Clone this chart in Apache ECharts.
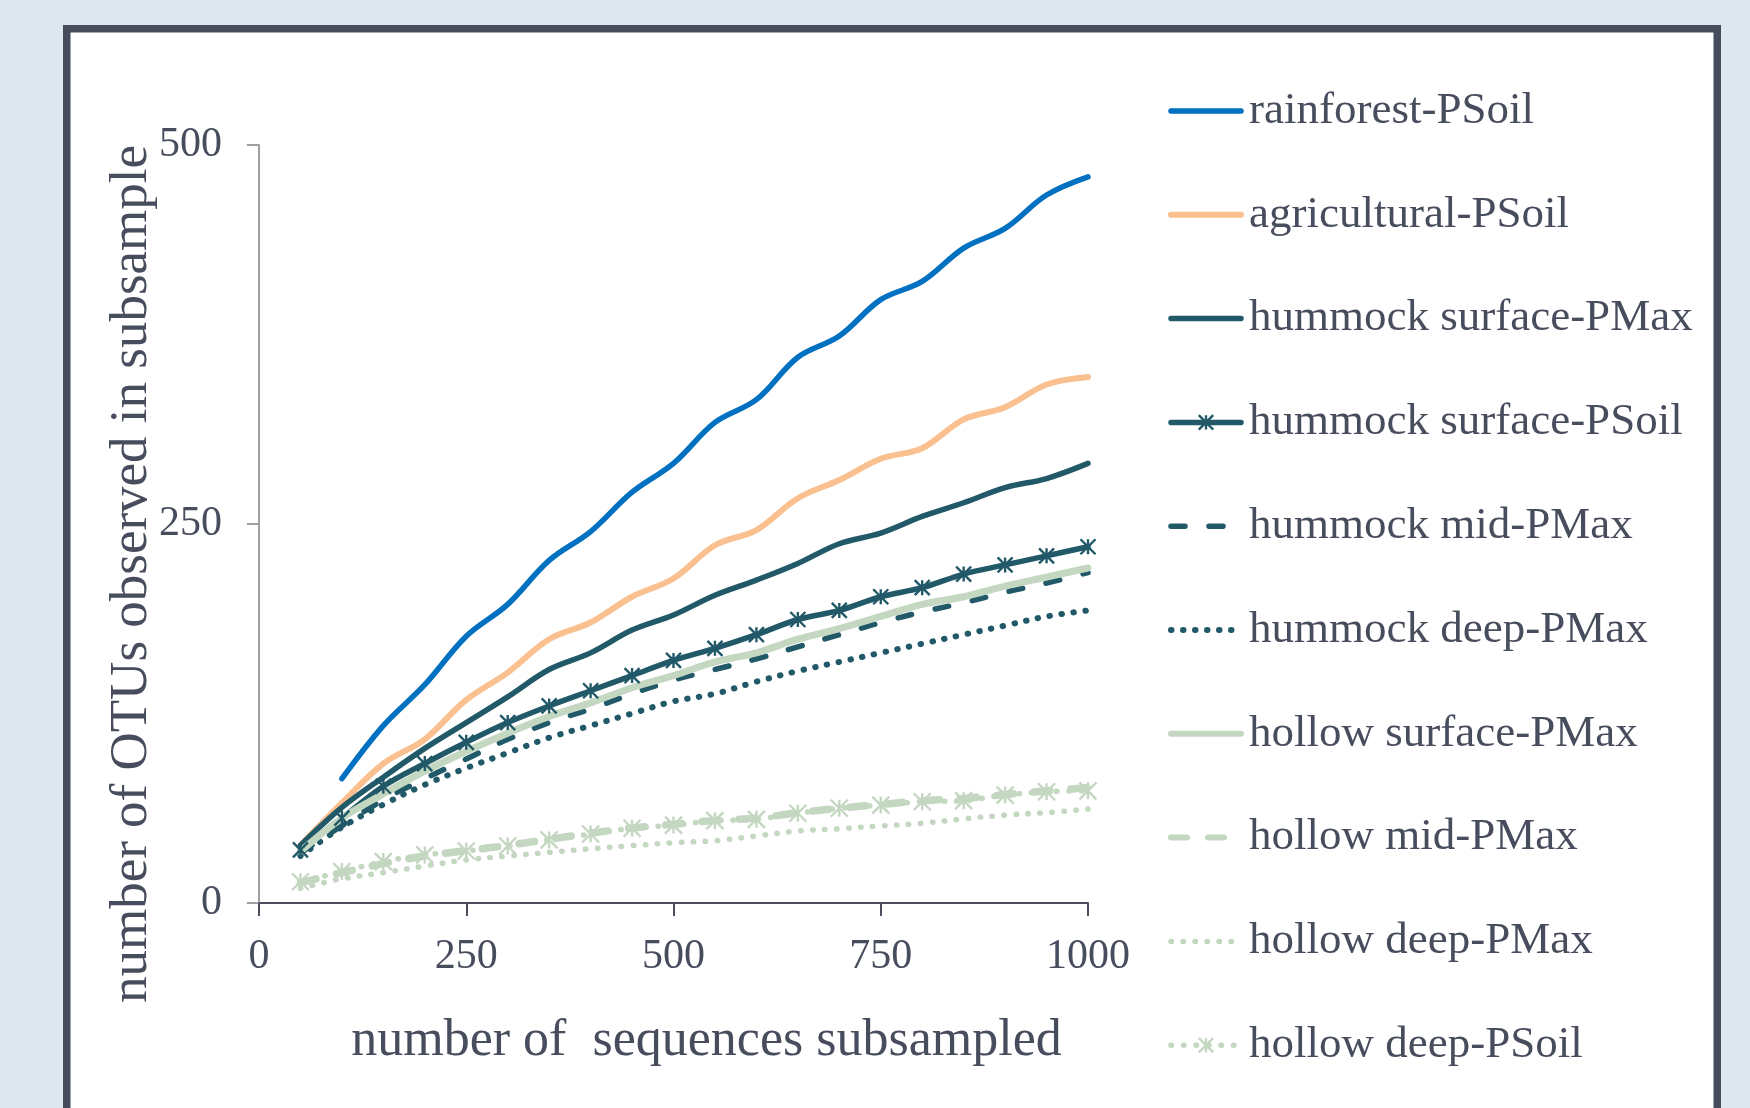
<!DOCTYPE html>
<html>
<head>
<meta charset="utf-8">
<title>OTU rarefaction</title>
<script src="https://cdn.jsdelivr.net/npm/echarts@6/dist/echarts.min.js"></script>
<style>
  html, body { margin: 0; padding: 0; background: #dde9ee; }
  #chart { width: 1750px; height: 1108px; }
</style>
</head>
<body>
<div id="chart"></div>
<script>
// sequences subsampled (x)
var sampleSizes = [50, 100, 150, 200, 250, 300, 350, 400, 450, 500, 550, 600, 650, 700, 750, 800, 850, 900, 950, 1000];

// OTUs observed (y), one array per sample
var rainforestPSoil = [null, 82, 117, 144, 176, 197, 226, 245, 271, 290, 317, 332, 360, 374, 398, 410, 432, 445, 467, 479];
var agriculturalPSoil = [38, 66, 92, 108, 134, 152, 174, 185, 202, 214, 236, 246, 267, 279, 293, 300, 319, 327, 342, 347];
var hummockSurfacePMax = [38, 63, 83, 102, 119, 136, 154, 165, 180, 190, 203, 213, 224, 237, 244, 255, 264, 274, 280, 290];
var hummockSurfacePSoil = [35, 56, 77, 92, 106, 119, 130, 140, 150, 160, 168, 177, 187, 193, 202, 208, 217, 223, 229, 235];
var hummockMidPMax = [33, 51, 68, 82, 95, 108, 119, 128, 138, 147, 154, 161, 169, 177, 185, 192, 198, 205, 211, 218];
var hummockDeepPMax = [31, 50, 65, 78, 89, 99, 109, 117, 125, 133, 138, 146, 153, 159, 165, 171, 177, 183, 189, 193];
var hollowSurfacePMax = [34, 56, 72, 87, 100, 112, 123, 132, 142, 150, 159, 165, 174, 181, 189, 197, 202, 209, 215, 221];
var hollowMidPMax = [13.5, 20, 26, 31, 34.5, 38, 42, 46, 49.5, 52, 54.5, 56, 59.5, 62.5, 65, 67.5, 69, 71.5, 74, 76];
var hollowDeepPMax = [9.7, 16, 20, 24.4, 28.4, 31, 33.4, 35.8, 37.8, 39.8, 41.1, 44.2, 47.5, 49, 50.8, 52.6, 55.4, 58, 59.6, 62];
var hollowDeepPSoil = [14, 20.7, 27.3, 31.7, 34.3, 37.6, 41.6, 45.5, 49.3, 51.4, 54.3, 55.2, 59.2, 62.5, 64.6, 66.8, 67.5, 71.2, 73.4, 74];

var xTicks = [0, 250, 500, 750, 1000];
var yTicks = [0, 250, 500];

var BLUE = '#0070c0';
var PEACH = '#fac090';
var TEAL = '#215968';
var SAGE = '#c4d7c1';
var TEXT = '#484d5e';
var FONT = '"Liberation Serif", "DejaVu Serif", serif';
var STAR = 'path://M0 0L10 10M10 0L0 10M5 0L5 10';

var DASH = [14, 24];
var DASH_WIDE = [16, 21];
var DOT = [0.5, 11.5];

function pairs(values) {
  return sampleSizes.map(function (x, i) {
    return [x, values[i]];
  });
}

var legendItems = [];

function lineSeries(name, values, color, width, type, marker) {
  var s = {
    name: name,
    type: 'line',
    data: pairs(values),
    smooth: 0.35,
    symbol: 'none',
    lineStyle: { color: color, width: width, type: type || 'solid', cap: 'round', join: 'round' },
    itemStyle: { color: color },
    emphasis: { disabled: true }
  };
  var item = {
    name: name,
    lineStyle: { color: color, width: Math.min(width, 6), type: type || 'solid', cap: 'round' },
    itemStyle: { opacity: 0 }
  };
  if (marker) {
    s.symbol = STAR;
    s.symbolSize = marker;
    s.showSymbol = true;
    s.itemStyle = { color: 'rgba(0,0,0,0)', borderColor: color, borderWidth: 2.4 };
    item.itemStyle = { color: 'rgba(0,0,0,0)', borderColor: color, borderWidth: 2.4, opacity: 1 };
  }
  legendItems.push(item);
  return s;
}

var series = [
  lineSeries('rainforest-PSoil', rainforestPSoil, BLUE, 5.5),
  lineSeries('agricultural-PSoil', agriculturalPSoil, PEACH, 6),
  lineSeries('hummock surface-PMax', hummockSurfacePMax, TEAL, 5.5),
  lineSeries('hummock surface-PSoil', hummockSurfacePSoil, TEAL, 5.5, 'solid', 15),
  lineSeries('hummock mid-PMax', hummockMidPMax, TEAL, 5.5, DASH),
  lineSeries('hummock deep-PMax', hummockDeepPMax, TEAL, 6, DOT),
  lineSeries('hollow surface-PMax', hollowSurfacePMax, SAGE, 7),
  lineSeries('hollow mid-PMax', hollowMidPMax, SAGE, 7.5, DASH_WIDE),
  lineSeries('hollow deep-PMax', hollowDeepPMax, SAGE, 5.5, DOT),
  lineSeries('hollow deep-PSoil', hollowDeepPSoil, SAGE, 5.5, [0.5, 12], 17)
];

var chart = echarts.init(document.getElementById('chart'));
var option = {
  animation: false,
  backgroundColor: '#dde9ee',
  textStyle: { fontFamily: FONT, color: TEXT },
  graphic: [
    {
      type: 'rect',
      shape: { x: 66.75, y: 28.75, width: 1650.5, height: 1200 },
      style: { fill: '#ffffff', stroke: '#474c5c', lineWidth: 7.5 },
      z: -10
    },
    {
      type: 'text',
      x: 132,
      y: 574,
      rotation: Math.PI / 2,
      style: {
        text: 'number of OTUs observed in subsample',
        font: '53px ' + FONT,
        fill: TEXT,
        align: 'center',
        verticalAlign: 'middle'
      }
    }
  ],
  grid: { left: 259, right: 662, top: 145, bottom: 205 },
  legend: {
    orient: 'vertical',
    left: 1163,
    top: 81,
    itemWidth: 70,
    itemHeight: 18,
    itemGap: 53.8,
    selectedMode: false,
    textStyle: { fontSize: 45, lineHeight: 50, color: TEXT, fontFamily: FONT, padding: [0, 0, 0, 3] },
    data: legendItems
  },
  xAxis: {
    type: 'value',
    min: xTicks[0],
    max: xTicks[xTicks.length - 1],
    interval: 250,
    name: 'number of  sequences subsampled',
    nameLocation: 'middle',
    nameGap: 112,
    nameTextStyle: { fontSize: 52, color: TEXT, fontFamily: FONT, padding: [0, 0, 0, 66] },
    axisLine: { show: true, lineStyle: { color: '#4a4e5e', width: 2 } },
    axisTick: { show: true, length: 13, lineStyle: { color: '#4a4e5e', width: 2 } },
    axisLabel: { margin: 33, fontSize: 42, color: TEXT, fontFamily: FONT, formatter: function (v) { return String(v); } },
    splitLine: { show: false }
  },
  yAxis: {
    type: 'value',
    min: yTicks[0],
    max: yTicks[yTicks.length - 1],
    interval: 250,
    axisLine: { show: true, lineStyle: { color: '#a0a0a0', width: 2 } },
    axisTick: { show: true, length: 12, lineStyle: { color: '#a0a0a0', width: 2 } },
    axisLabel: { margin: 37, fontSize: 42, color: TEXT, fontFamily: FONT },
    splitLine: { show: false }
  },
  series: series
};
chart.setOption(option);
</script>
</body>
</html>
